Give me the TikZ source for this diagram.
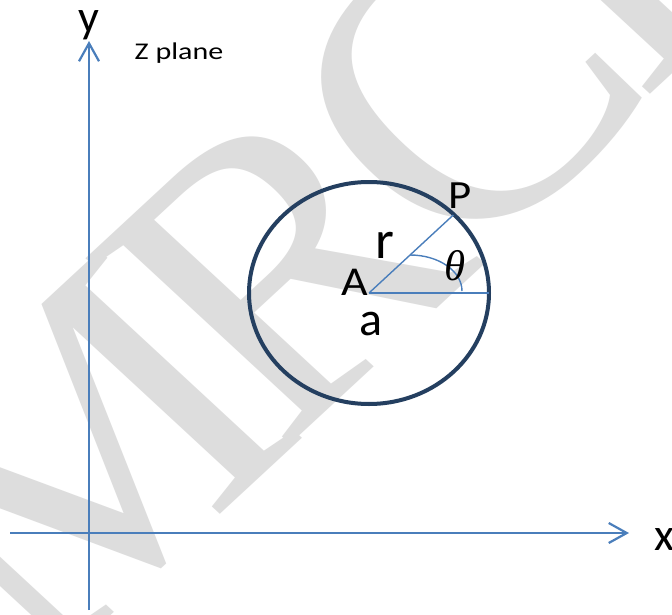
\documentclass[tikz,border=0pt]{standalone}
\usepackage{fontspec}
\usetikzlibrary{arrows.meta}
\setmainfont{Carlito}
\newfontfamily\fA{Carlito}[FakeStretch=1.12]
\newfontfamily\fZ{Carlito}[FakeStretch=1.25]
\newfontfamily\fN{Carlito}
\newfontfamily\fT{Liberation Serif}
\newfontfamily\fW{Liberation Serif}
\definecolor{axisblue}{HTML}{4A7EBB}
\definecolor{circnavy}{HTML}{243F60}
\definecolor{wmgray}{HTML}{DDDDDD}
\tikzset{
  axisline/.style={draw=axisblue, line width=2.2pt, -{Straight Barb[length=18pt,width=20pt,line width=2.2pt]}},
  radline/.style={draw=axisblue, line width=1.4pt},
  circline/.style={draw=circnavy, line width=4pt},
  lbl/.style={inner sep=0pt, text=black},
  wmark/.style={inner sep=0pt, text=wmgray, anchor=base west, rotate=45, transform shape,
    font=\fW\fontsize{405}{405}\selectfont}
}
\begin{document}
\begin{tikzpicture}[x=1pt,y=-1pt]
\useasboundingbox (0,0) rectangle (672,615);
\clip (0,0) rectangle (672,615);
\fill[white] (0,0) rectangle (672,615);
% watermark
\begin{scope}[xscale=1.08]
\node[wmark] (wmM) at (33.4,684.6) {M};
\node[wmark] (wmR) at (258.4,455) {R};
\node[wmark] (wmC) at (426.2,279) {C};
\node[wmark] (wmE) at (594.1,103) {E};
\node[wmark] (wmT) at (769,-72) {T};
\end{scope}
% axes
\coordinate (ybot) at (89,610);
\coordinate (ytop) at (89,41);
\coordinate (xleft) at (10,533);
\coordinate (xright) at (629,533);
\draw[axisline] (ybot) -- (ytop);
\draw[axisline] (xleft) -- (xright);
% circle
\coordinate (A) at (369,293);
\coordinate (P) at (453.3,215);
\coordinate (E) at (489,293);
\draw[circline] (A) ellipse [x radius=120pt, y radius=111pt];
\draw[radline] (A) -- (P);
\draw[radline] (A) -- (E);
\coordinate (th1) at (410,255);
\coordinate (th2) at (462,291);
\draw[radline] (th1) .. controls (438.7,255) and (462,271.1) .. (th2);
% labels
\node[lbl, anchor=base, font=\fN\fontsize{46}{48}\selectfont] (ylab) at (89,33) {y};
\node[lbl, anchor=base west, font=\fN\fontsize{46}{48}\selectfont] (xlab) at (654,550) {x};
\node[lbl, anchor=base west, font=\fZ\fontsize{24}{26}\selectfont] (zlab) at (134.5,59.3) {Z plane};
\node[lbl, anchor=base west, font=\fA\fontsize{41}{43}\selectfont] (Alab) at (341.5,295) {A};
\node[lbl, anchor=base west, font=\fA\fontsize{40}{42}\selectfont] (Plab) at (448,208.3) {P};
\node[lbl, anchor=base west, font=\fN\fontsize{54}{56}\selectfont] (rlab) at (375.7,258.3) {r};
\node[lbl, anchor=base west, font=\fN\fontsize{48}{50}\selectfont] (alab) at (359.3,335) {a};
\node[lbl, anchor=base, font=\fT\itshape\fontsize{43}{45}\selectfont] (thlab) at (455,280) {θ};
\end{tikzpicture}
\end{document}
